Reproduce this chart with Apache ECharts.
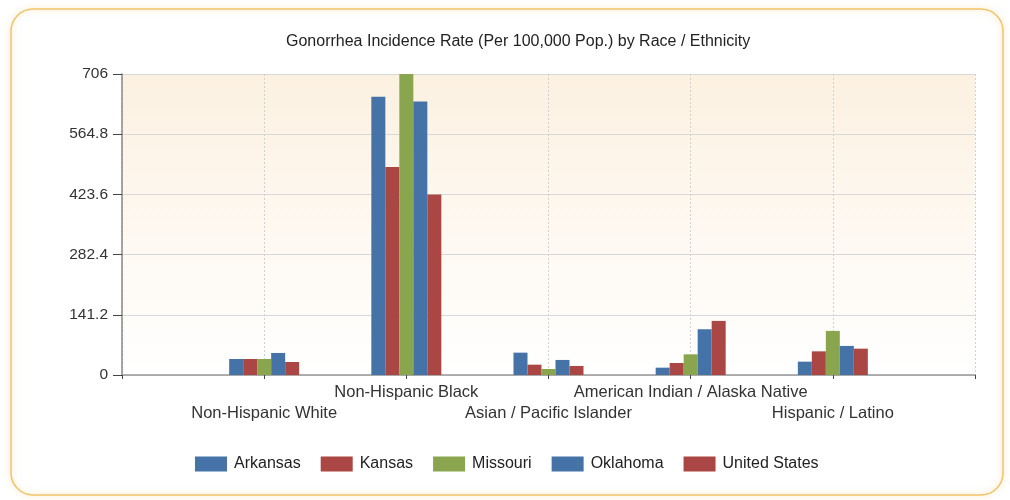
<!DOCTYPE html>
<html>
<head>
<meta charset="utf-8">
<script src="https://cdn.jsdelivr.net/npm/echarts@6/dist/echarts.min.js"></script>
<style>
  html, body { margin: 0; padding: 0; background: #fff; }
  #chart { width: 1010px; height: 500px; }
</style>
</head>
<body>
<div id="chart"></div>
<script>
const categories = ['Non-Hispanic White', 'Non-Hispanic Black', 'Asian / Pacific Islander', 'American Indian / Alaska Native', 'Hispanic / Latino'];
const arkansas = [37.6, 652.6, 52.4, 17.2, 31.3];
const kansas = [37.6, 488, 24.2, 28.2, 55.5];
const missouri = [37.6, 706, 14.1, 48.5, 103.4];
const oklahoma = [51.7, 641.7, 35.3, 107.3, 68.2];
const unitedStates = [30.5, 423.1, 21.2, 126.9, 61.8];
const yTicks = [0, 141.2, 282.4, 423.6, 564.8, 706];

const seriesNames = ['Arkansas', 'Kansas', 'Missouri', 'Oklahoma', 'United States'];
const seriesData = [arkansas, kansas, missouri, oklahoma, unitedStates];
const colors = ['#4572a7', '#aa4643', '#89a54e', '#4572a7', '#aa4643'];

// empty slot at each end so the groups sit on ticks like the original
const pad = (arr, blank) => [blank, ...arr, blank];
const font = '"Liberation Sans", Arial, sans-serif';

const chart = echarts.init(document.getElementById('chart'));

chart.setOption({
    animation: false,
    color: colors,
    title: {
        text: 'Gonorrhea Incidence Rate (Per 100,000 Pop.) by Race / Ethnicity',
        left: 281,
        top: 29,
        textStyle: { fontFamily: font, fontSize: 16, fontWeight: 'normal', color: '#222' }
    },
    graphic: [{
        type: 'rect',
        shape: { x: 11, y: 9, width: 992, height: 486, r: 22 },
        style: {
            fill: 'none',
            stroke: '#f0c468',
            lineWidth: 1.5,
            shadowBlur: 6,
            shadowColor: 'rgba(240,190,90,0.6)'
        },
        z: -10
    }],
    legend: {
        data: seriesNames,
        left: 190,
        top: 451,
        icon: 'rect',
        itemWidth: 32,
        itemHeight: 15,
        itemGap: 20,
        textStyle: { fontFamily: font, fontSize: 16, color: '#222', padding: [0, 0, 0, 2] }
    },
    grid: {
        left: 122,
        right: 35,
        top: 74,
        bottom: 125,
        show: true,
        borderWidth: 0,
        backgroundColor: new echarts.graphic.LinearGradient(0, 0, 0, 1, [
            { offset: 0, color: '#fcf1e1' },
            { offset: 1, color: '#ffffff' }
        ])
    },
    xAxis: {
        type: 'category',
        data: pad(categories, ''),
        boundaryGap: false,
        axisLine: { show: true, lineStyle: { color: '#999', width: 1.5 } },
        axisTick: { show: true, interval: 0, length: 4, lineStyle: { color: '#444' } },
        axisLabel: {
            interval: 0,
            margin: 7,
            fontFamily: font,
            fontSize: 16.5,
            lineHeight: 21,
            color: '#333',
            formatter: (v, i) => (i % 2 === 1 ? '\n' + v : v)
        },
        splitLine: { show: true, interval: 0, lineStyle: { color: '#d0d0d0', type: [2, 2] } }
    },
    yAxis: {
        type: 'value',
        min: yTicks[0],
        max: yTicks[yTicks.length - 1],
        interval: yTicks[1],
        axisLine: { show: true, lineStyle: { color: '#888', width: 1.5 } },
        axisTick: { show: true, length: 9, lineStyle: { color: '#444' } },
        axisLabel: {
            margin: 14,
            fontFamily: font,
            fontSize: 15.5,
            color: '#333',
            formatter: v => String(Math.round(v * 10) / 10)
        },
        splitLine: { show: true, lineStyle: { color: '#d8d8d8', width: 1 } }
    },
    series: seriesNames.map((name, i) => ({
        name: name,
        type: 'bar',
        data: pad(seriesData[i], null),
        barWidth: 14,
        barGap: '0%'
    }))
});
</script>
</body>
</html>
